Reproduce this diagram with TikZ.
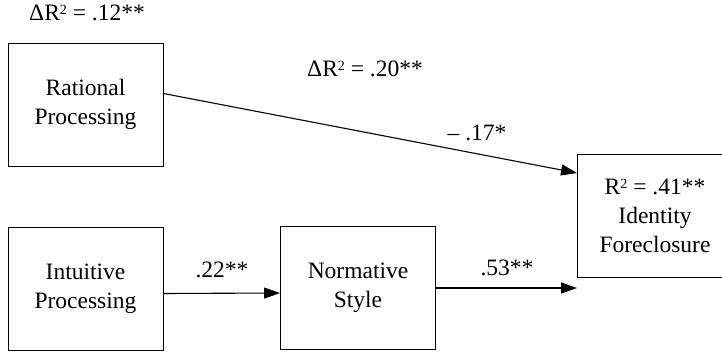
\documentclass[tikz,border=0pt]{standalone}
\usepackage{fontspec}
\setmainfont{Liberation Serif}
\usetikzlibrary{arrows.meta}

\newcommand{\sqtwo}{\raisebox{6pt}{\fontsize{14}{14}\selectfont 2}}

\tikzset{
  varbox/.style={draw, line width=0.9pt, minimum width=155pt, minimum height=123pt, align=center, inner sep=0pt},
  path/.style={line width=1.1pt, -{Triangle[length=16pt,width=11pt]}},
  coef/.style={anchor=base}
}

\begin{document}
\begin{tikzpicture}[x=1pt, y=-1pt, font=\fontsize{23.5}{29}\selectfont]
\useasboundingbox (0,0) rectangle (722,351);

\node[varbox] (rational) at (85.5,104.5) {Rational\\Processing};
\node[varbox] (intuitive) at (85.5,288.5) {Intuitive\\Processing};
\node[varbox] (normative) at (358,288) {Normative\\Style};
\node[varbox] (identity) at (655,216) {R\sqtwo{} = .41**\\Identity\\Foreclosure};

\node[coef] (drone) at (87,20) {ΔR\sqtwo{} = .12**};
\node[coef] (drtwo) at (365,76) {ΔR\sqtwo{} = .20**};

\draw[path] ([yshift=11pt]rational.east) -- ([yshift=43pt]identity.west);
\node[coef] (rat) at (477,140) {-- .17*};

\draw[path] ([yshift=-5pt]intuitive.east) -- ([yshift=-5pt]normative.west);
\node[coef] (intu) at (222,277) {.22**};

\draw[path] (normative.east) -- (normative.east -| identity.west);
\node[coef] (norm) at (507,275) {.53**};
\end{tikzpicture}
\end{document}
